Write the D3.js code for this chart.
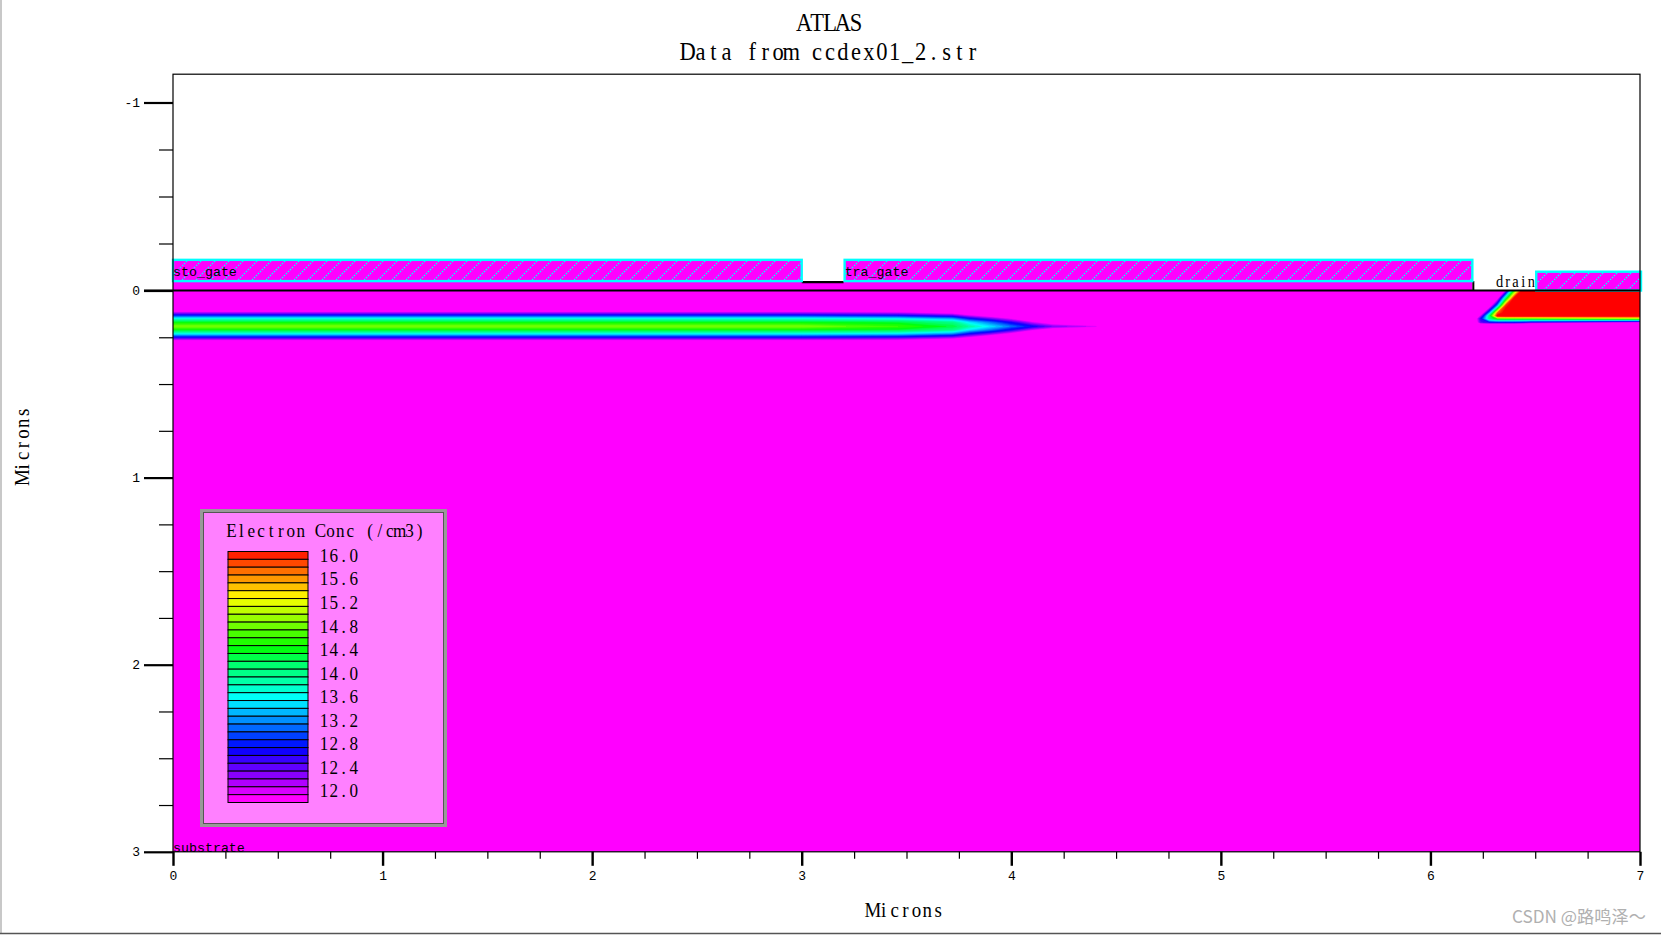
<!DOCTYPE html>
<html><head><meta charset="utf-8">
<style>
html,body{margin:0;padding:0;background:#fff;overflow:hidden}
svg{display:block}
text{font-family:"Liberation Mono",monospace;fill:#000}
</style>
<script src="https://cdnjs.cloudflare.com/ajax/libs/d3/7.8.5/d3.min.js"></script>
</head><body>
<script>
const titleLines = ["ATLAS", "Data from ccdex01_2.str"];
const xLabel = "Microns", yLabel = "Microns", legendTitle = "Electron Conc (/cm3)";
const xMajor = [0,1,2,3,4,5,6,7];
const yMajor = [-1,0,1,2,3];
const xMinor = [0.25,0.5,0.75,1.25,1.5,1.75,2.25,2.5,2.75,3.25,3.5,3.75,4.25,4.5,4.75,5.25,5.5,5.75,6.25,6.5,6.75];
const yMinor = [-0.75,-0.5,-0.25,0.25,0.5,0.75,1.25,1.5,1.75,2.25,2.5,2.75];

// legend: one level and colour per row, top to bottom
const levels = [16.0,15.87,15.73,15.6,15.47,15.33,15.2,15.07,14.93,14.8,14.67,14.53,14.4,14.27,14.13,14.0,13.87,13.73,13.6,13.47,13.33,13.2,13.07,12.93,12.8,12.67,12.53,12.4,12.27,12.13,12.0,11.87];
const levelColors = ["#ff2000","#ff4800","#ff7000","#ff9800","#ffc000","#fff000","#e8ff00","#c0ff00","#98ff00","#70ff00","#48ff00","#20ff00","#00ff10","#00ff48","#00ff70","#00ff88","#00ffa8","#00ffd0","#00fff8","#00e0ff","#00b8ff","#0090ff","#0068ff","#0040ff","#0018ff","#1000ff","#3800ff","#6000ff","#8800ff","#b000ff","#d800ff","#ff00ff"];
const legendLabels = ["16.0","15.6","15.2","14.8","14.4","14.0","13.6","13.2","12.8","12.4","12.0"];
const legendLabelRows = [0,3,6,9,12,15,18,21,24,27,30];
const aboveColor = "#ff0000";

// regions
const gateNames = ["sto_gate","tra_gate","drain"];
const gateX0 = [0,3.2,6.5];
const gateX1 = [3.0,6.2,7.0];
const gateTop = [-0.163,-0.163,-0.10];
const gateBottom = [-0.05,-0.05,0];

// log10 electron concentration: buried channel
const chanX = [0,3.0,3.46,3.72,3.8,3.9,4.0,4.1,4.2,4.4,4.5];
const chanY = [0.09,0.114,0.132,0.15,0.17,0.192,0.21,0.23,0.248,0.266,0.29];
const chanZ = [
 [11,11,11,11,11,11,11,11,11,11,11],
 [11.87,11.87,11.8,11.4,11,11,11,11,11,11,11],
 [12.7,12.7,12.6,12.3,11.9,11.5,11,11,11,11,11],
 [13.6,13.6,13.5,13.2,12.7,12.3,11.85,11,11,11,11],
 [14.4,14.4,14.3,14.0,13.5,13.1,12.6,12.0,11.5,11,11],
 [14.85,14.85,14.6,14.3,13.9,13.5,13.1,12.7,12.3,12.0,11],
 [14.4,14.4,14.3,14.0,13.5,13.1,12.6,12.0,11.5,11,11],
 [13.6,13.6,13.5,13.2,12.7,12.3,11.8,11,11,11,11],
 [12.7,12.7,12.6,12.3,11.95,11.5,11,11,11,11,11],
 [11.87,11.87,11.8,11.5,11,11,11,11,11,11,11],
 [11,11,11,11,11,11,11,11,11,11,11]
];
// drain diffusion
const drainX = [6.20,6.24,6.28,6.32,6.36,6.40,6.44,6.48,7.0];
const drainY = [0,0.04,0.08,0.12,0.135,0.15,0.17,0.185];
const drainZ = [
 [11,11,11,11,12.0,14.5,16.3,16.3,16.3],
 [11,11,11,11.6,14.0,16.2,16.3,16.3,16.3],
 [11,11,11.3,13.2,16.0,16.3,16.3,16.3,16.3],
 [11,11.3,13.2,15.8,16.3,16.3,16.3,16.3,16.3],
 [11,12.0,14.0,16.2,16.3,16.3,16.3,16.3,16.3],
 [11,12.6,14.0,14.6,14.6,14.6,14.6,14.6,14.9],
 [11,12.4,12.6,12.6,12.6,12.6,12.5,12.3,11.6],
 [11,11,11,11,11,11,11,11,11]
];

const W=1661,H=935;
const L=173,R=1640,T=74.2,B=851.8;
const x=d3.scaleLinear().domain([0,7]).range([L,R]);
const y=d3.scaleLinear().domain([-1,0,3]).range([102.5,290.5,B]);
const svg=d3.select("body").append("svg").attr("width",W).attr("height",H).attr("viewBox",`0 0 ${W} ${H}`);

// fixed-pitch serif text: every glyph is centred in its own cell
const SX=0.9;
function mono(parent,str,cell,size,px,py,align,rot){
  const start=align==="middle"?-str.length*cell/2:0;
  const xs=Array.from(str,(c,i)=>((start+(i+0.5)*cell)/SX).toFixed(2)).join(" ");
  return parent.append("text")
    .attr("transform",`translate(${px},${py}) rotate(${rot||0}) scale(${SX},1)`)
    .attr("x",xs).attr("y",0).attr("text-anchor","middle")
    .attr("font-size",size).style("font-family",'"Liberation Serif",serif').text(str);
}

// page frame
svg.append("rect").attr("width",W).attr("height",H).attr("fill","#fff");
svg.append("line").attr("x1",1).attr("x2",1).attr("y1",0).attr("y2",933).attr("stroke","#c8c8c8").attr("stroke-width",2);
svg.append("line").attr("x1",0).attr("x2",W).attr("y1",933.5).attr("y2",933.5).attr("stroke","#555").attr("stroke-width",1.5);

// hatch
const defs=svg.append("defs");
const HP=14;
const pat=defs.append("pattern").attr("id","hatch").attr("patternUnits","userSpaceOnUse").attr("width",HP).attr("height",HP);
pat.append("rect").attr("width",HP).attr("height",HP).attr("fill","#ff00ff");
pat.append("line").attr("x1",0).attr("y1",HP).attr("x2",HP).attr("y2",0).attr("stroke","#00ffff").attr("stroke-width",1.3).attr("stroke-dasharray","1.5 1.3");
defs.append("clipPath").attr("id","plotClip").append("rect").attr("x",L).attr("y",y(0)).attr("width",R-L).attr("height",B-y(0));

// silicon + contours
const plot=svg.append("g");
plot.append("rect").attr("x",L).attr("y",y(0)).attr("width",R-L).attr("height",B-y(0)).attr("fill",levelColors[31]);
const contourG=plot.append("g").attr("clip-path","url(#plotClip)");
const thresholds=[], fills=[];
for(let k=levels.length-2;k>=0;k--){thresholds.push((levels[k]+levels[k+1])/2);fills.push(levelColors[k]);}
thresholds.push(16.07);fills.push(aboveColor);
function drawGrid(xs,ys,zs){
  const ix=d3.scaleLinear().domain(xs.map((_,i)=>i+0.5)).range(xs.map(v=>x(v))).clamp(true);
  const iy=d3.scaleLinear().domain(ys.map((_,i)=>i+0.5)).range(ys.map(v=>y(v))).clamp(true);
  const path=d3.geoPath(d3.geoTransform({point(a,b){this.stream.point(ix(a),iy(b));}}));
  const cs=d3.contours().size([xs.length,ys.length]).thresholds(thresholds)(zs.flat());
  contourG.append("g").selectAll("path").data(cs).join("path")
    .attr("d",path).attr("fill",(d,i)=>fills[i]).attr("stroke",(d,i)=>fills[i]).attr("stroke-width",0.4);
}
drawGrid(chanX,chanY,chanZ);
drawGrid(drainX,drainY,drainZ);

// oxide
plot.append("rect").attr("x",x(0)).attr("y",y(-0.05)).attr("width",x(6.2)-x(0)).attr("height",y(0)-y(-0.05)).attr("fill","#ff00ff");
plot.append("line").attr("x1",x(3)).attr("x2",x(3.2)).attr("y1",y(-0.05)+1).attr("y2",y(-0.05)+1).attr("stroke","#000").attr("stroke-width",2.4);
plot.append("line").attr("x1",x(6.2)+1).attr("x2",x(6.2)+1).attr("y1",y(-0.05)).attr("y2",y(0)).attr("stroke","#000").attr("stroke-width",2);

// gates
plot.selectAll("rect.gate").data(gateNames).join("rect").attr("class","gate")
  .attr("x",(d,i)=>x(gateX0[i])+(i?1:0))
  .attr("y",(d,i)=>y(gateTop[i]))
  .attr("width",(d,i)=>x(gateX1[i])-x(gateX0[i])-(i==2?0:(i?1:0)))
  .attr("height",(d,i)=>y(gateBottom[i])-y(gateTop[i]))
  .attr("fill","url(#hatch)").attr("stroke","#00ffff").attr("stroke-width",2.4);

// frame and axes
svg.append("rect").attr("x",L).attr("y",T).attr("width",R-L).attr("height",B-T).attr("fill","none").attr("stroke","#000").attr("stroke-width",1.2);
svg.append("line").attr("x1",L-29).attr("x2",R).attr("y1",y(0)).attr("y2",y(0)).attr("stroke","#000").attr("stroke-width",2);

function styleAxis(g,w){g.select(".domain").remove();g.selectAll("line").attr("stroke","#000").attr("stroke-width",w);}
const ax=svg.append("g").attr("transform",`translate(0,${B})`);
ax.append("g").call(d3.axisBottom(x).tickValues(xMinor).tickSize(7).tickFormat("")).call(g=>styleAxis(g,1.2));
ax.append("g").call(d3.axisBottom(x).tickValues(xMajor).tickSize(14).tickPadding(5).tickFormat(d3.format("d"))).call(g=>styleAxis(g,2.4))
  .selectAll("text").attr("font-size",13).attr("font-family","Liberation Mono").attr("fill","#000");
const ay=svg.append("g").attr("transform",`translate(${L},0)`);
ay.append("g").call(d3.axisLeft(y).tickValues(yMinor).tickSize(14).tickFormat("")).call(g=>styleAxis(g,1.2));
ay.append("g").call(d3.axisLeft(y).tickValues(yMajor).tickSize(29).tickPadding(4).tickFormat(d=>d3.format("d")(d).replace("−","-"))).call(g=>styleAxis(g,2.2))
  .selectAll("text").attr("font-size",13).attr("font-family","Liberation Mono").attr("fill","#000");

// region labels
const regLabel=(s,px,py)=>svg.append("text").attr("x",px).attr("y",py).attr("font-size",13.3).text(s);
regLabel(gateNames[0],x(0),275.5);
regLabel(gateNames[1],x(3.2)+1,275.5);
mono(svg,gateNames[2],7.9,16,x(6.5)-39.5,286.5,"start");
regLabel("substrate",x(0),852);

// titles
titleLines.forEach((s,i)=>mono(svg,s,12.95,25,830,30.5+i*29,"middle"));
mono(svg,xLabel,10.9,21,905.5,917,"middle");
mono(svg,yLabel,10.9,21,29,445,"middle",-90);

// legend
const lg=svg.append("g");
lg.append("rect").attr("x",201.5).attr("y",510.5).attr("width",244).attr("height",315).attr("fill","#ff80ff").attr("stroke","#999").attr("stroke-width",3);
lg.append("rect").attr("x",203.5).attr("y",512.5).attr("width",240).attr("height",311).attr("fill","none").attr("stroke","#555").attr("stroke-width",1);
mono(lg,legendTitle,9.9,19,226.5,536.5,"start");
const rowY=d3.scaleBand().domain(d3.range(levels.length)).range([551.5,802.5]);
lg.selectAll("rect.swatch").data(levelColors).join("rect").attr("class","swatch")
  .attr("x",228).attr("y",(d,i)=>rowY(i)).attr("width",80).attr("height",rowY.bandwidth())
  .attr("fill",d=>d).attr("stroke","#000").attr("stroke-width",1);
legendLabels.forEach((s,i)=>mono(lg,s,9.9,19,319,rowY(legendLabelRows[i])+rowY.bandwidth()/2+6.5,"start"));

// watermark
svg.append("text").attr("x",1512).attr("y",923).attr("font-size",17.2)
  .style("font-family",'"Noto Sans CJK SC","Noto Sans",sans-serif').style("fill","#b0b0b0").text("CSDN @路鸣泽～");
</script>
</body></html>
